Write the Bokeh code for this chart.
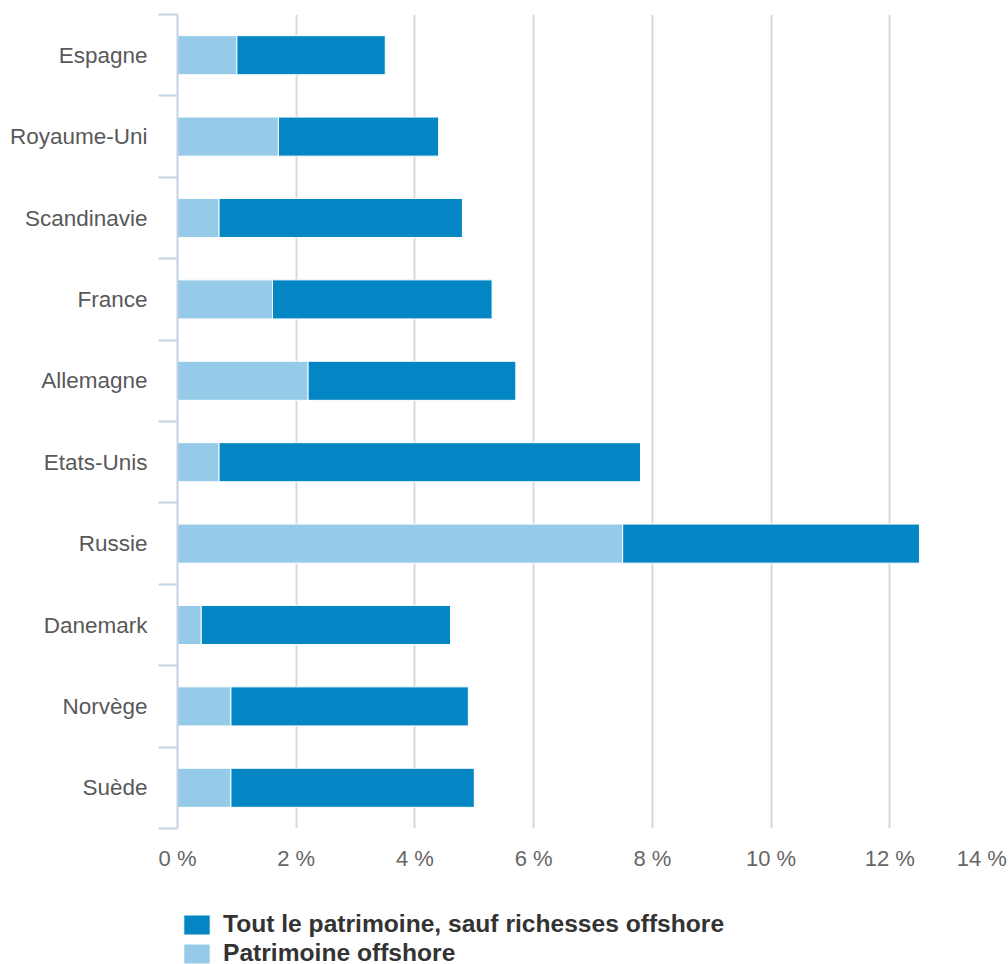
from bokeh.plotting import figure
from bokeh.layouts import column
from bokeh.models import (ColumnDataSource, Range1d, FixedTicker, PrintfTickFormatter,
                          Legend, LegendItem)
from bokeh.embed import file_html
from bokeh.resources import INLINE

categories = ["Espagne", "Royaume-Uni", "Scandinavie", "France", "Allemagne",
              "Etats-Unis", "Russie", "Danemark", "Norvège", "Suède"]
offshore = [1.0, 1.7, 0.7, 1.6, 2.2, 0.7, 7.5, 0.4, 0.9, 0.9]
other = [2.5, 2.7, 4.1, 3.7, 3.5, 7.1, 5.0, 4.2, 4.0, 4.1]
x_ticks = [0, 2, 4, 6, 8, 10, 12, 14]
series_labels = ["Tout le patrimoine, sauf richesses offshore", "Patrimoine offshore"]

DARK = "#0586c4"
LIGHT = "#95cbe8"
FONT = "Liberation Sans"
AXIS_COLOR = "#c5d2e4"

n = len(categories)
ypos = list(range(n))
src = ColumnDataSource(dict(y=ypos, offshore=offshore, other=other, cat=categories))

p = figure(width=1008, height=870, frame_width=831, frame_height=814,
           x_range=Range1d(0, x_ticks[-1]), y_range=Range1d(n - 0.5, -0.5),
           output_backend="svg", toolbar_location=None,
           min_border_left=177, min_border_right=0, min_border_top=14,
           min_border_bottom=42)
p.outline_line_color = None
p.background_fill_color = "white"

rs = p.hbar_stack(["offshore", "other"], y="y", height=0.48, source=src,
                  color=[LIGHT, DARK], line_color="white", line_width=1)

# x axis: the last label sits inside the canvas edge, as in the original
edge_shift = 0.45
label_ticks = x_ticks[:-1] + [x_ticks[-1] - edge_shift]
p.xaxis.ticker = FixedTicker(ticks=label_ticks)
p.xaxis.formatter = PrintfTickFormatter(format="%d %%")
p.xaxis.major_label_overrides = {label_ticks[-1]: f"{x_ticks[-1]} %"}
p.xaxis.axis_line_color = None
p.xaxis.major_tick_line_color = None
p.xaxis.minor_tick_line_color = None
p.xaxis.major_tick_out = 0
p.xaxis.major_tick_in = 0
p.xaxis.minor_tick_out = 0
p.xaxis.minor_tick_in = 0
p.xaxis.major_label_text_font = FONT
p.xaxis.major_label_text_font_size = "22px"
p.xaxis.major_label_text_color = "#666666"
p.xaxis.major_label_standoff = 17
p.xgrid.ticker = FixedTicker(ticks=x_ticks[:-1])
p.xgrid.grid_line_color = "#d9d9d9"
p.xgrid.grid_line_width = 2
p.ygrid.grid_line_color = None

# y axis: ticks between categories
p.yaxis.ticker = FixedTicker(ticks=ypos, minor_ticks=[i - 0.5 for i in range(n + 1)])
p.yaxis.major_label_overrides = {i: c for i, c in zip(ypos, categories)}
p.yaxis.axis_line_color = AXIS_COLOR
p.yaxis.axis_line_width = 2
p.yaxis.major_tick_out = 0
p.yaxis.major_tick_in = 0
p.yaxis.major_tick_line_color = None
p.yaxis.minor_tick_line_color = AXIS_COLOR
p.yaxis.minor_tick_line_width = 2
p.yaxis.minor_tick_out = 19
p.yaxis.minor_tick_in = 0
p.yaxis.major_label_standoff = 11
p.yaxis.major_label_text_font = FONT
p.yaxis.major_label_text_font_size = "22.5px"
p.yaxis.major_label_text_color = "#595959"

# legend strip below the chart (same series; its ranges keep the bars out of view)
pl = figure(width=1008, height=94, x_range=Range1d(-20, -19), y_range=Range1d(-20, -19),
            output_backend="svg", toolbar_location=None,
            min_border_left=177, min_border_right=0, min_border_top=10,
            min_border_bottom=0)
pl.axis.visible = False
pl.grid.visible = False
pl.outline_line_color = None
pl.border_fill_color = "white"
pl.background_fill_color = "white"
lr = pl.hbar_stack(["offshore", "other"], y="y", height=0.48, source=src,
                   color=[LIGHT, DARK], line_color="white", line_width=1)

legend = Legend(items=[LegendItem(label=series_labels[0], renderers=[lr[1]]),
                       LegendItem(label=series_labels[1], renderers=[lr[0]])],
                location=(3, 0), orientation="vertical",
                glyph_width=33, glyph_height=25, label_height=25, spacing=1,
                label_standoff=10, padding=0, margin=0,
                label_text_font=FONT, label_text_font_size="24.6px",
                label_text_font_style="bold", label_text_color="#333333",
                border_line_alpha=0, background_fill_alpha=0)
pl.add_layout(legend, "center")

layout = column(p, pl, spacing=0)
open("out.html", "w").write(file_html(layout, INLINE))
